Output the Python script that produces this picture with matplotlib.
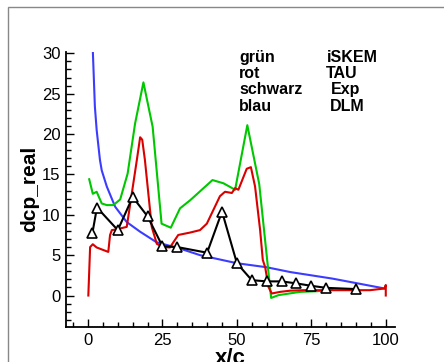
import numpy as np
import matplotlib.pyplot as plt
from matplotlib.patches import Rectangle
from matplotlib.ticker import MultipleLocator

plt.rcParams['font.family'] = ['Liberation Sans', 'DejaVu Sans']

# DLM (blau)
x_dlm = [1.6, 2.3, 2.9, 4.0, 4.6, 6.3, 9.1, 13.0, 17.5, 23.0, 31.0, 37.6, 50.0, 60.0, 68.0, 82.0, 99.2]
y_dlm = [30.4, 23.4, 20.5, 16.8, 15.5, 13.5, 11.0, 9.1, 7.9, 6.6, 5.8, 5.0, 4.0, 3.5, 2.9, 2.1, 0.9]

# iSKEM (gruen)
x_isk = [0.4, 1.6, 2.9, 4.6, 6.3, 8.5, 10.8, 13.3, 15.8, 18.6, 21.7, 24.7, 27.8, 30.9, 34.3,
         41.8, 45.5, 49.4, 53.5, 57.5, 61.5, 64.0, 71.2, 76.8, 82.0]
y_isk = [14.4, 12.6, 12.85, 11.4, 11.2, 11.2, 11.9, 15.1, 21.3, 26.4, 20.9, 8.9, 8.4, 10.8, 11.8,
         14.3, 13.9, 13.1, 21.1, 13.8, -0.3, 0.05, 0.45, 0.53, 0.7]

# TAU (rot)
x_tau = [0.1, 0.7, 1.6, 2.9, 6.8, 7.4, 8.0, 9.6, 13.0, 13.5, 16.4, 17.5, 18.2, 19.1, 21.4, 23.1,
         25.3, 27.5, 30.3, 34.3, 37.6, 39.9, 42.1, 44.3, 46.0, 48.3, 49.4, 50.5, 53.3, 54.7,
         56.1, 57.8, 58.7, 59.5, 60.6, 61.7, 64.5, 67.9, 72.3, 81.2, 94.7, 99.6, 100.0, 100.0]
y_tau = [0.0, 6.0, 6.35, 5.95, 5.4, 7.5, 8.1, 8.2, 8.5, 9.7, 16.8, 19.6, 19.3, 16.8, 8.5, 6.4,
         6.0, 5.95, 7.5, 7.8, 8.1, 8.9, 10.6, 12.3, 12.85, 12.7, 13.3, 13.1, 15.7, 15.9,
         13.5, 8.1, 4.4, 3.5, 1.07, 0.25, 0.45, 0.6, 0.66, 0.66, 0.66, 0.87, 1.3, 0.0]

# Exp (schwarz)
x_exp = [1.5, 3, 10, 15, 20, 25, 30, 40, 45, 50, 55, 60, 65, 70, 75, 80, 90]
y_exp = [7.8, 10.9, 8.1, 12.2, 9.8, 6.1, 6.0, 5.3, 10.4, 4.0, 1.9, 1.75, 1.75, 1.5, 1.2, 0.95, 0.8]

labels_left = ['grün', 'rot', 'schwarz', 'blau']
labels_right = ['iSKEM', 'TAU', 'Exp', 'DLM']

fig = plt.figure(figsize=(4.44, 3.62), dpi=100)
fig.patches.append(Rectangle((8 / 444, -0.1), 1.2, 1 - 7 / 362 + 0.1, transform=fig.transFigure,
                             fill=False, edgecolor='#888888', linewidth=1.0))

ax = fig.add_axes([66 / 444, 1 - 327 / 362, 329 / 444, 275.3 / 362])
ax.plot(x_dlm, y_dlm, color='#3c3cff', lw=1.5)
ax.plot(x_isk, y_isk, color='#00c800', lw=1.5)
ax.plot(x_tau, y_tau, color='#d90000', lw=1.5)
ax.plot(x_exp, y_exp, color='black', lw=1.5, marker='^', ms=6.5,
        mfc='white', mec='black', mew=1.2)

ax.set_xlim(-7.4, 103.1)
ax.set_ylim(-3.9, 30.2)
ax.spines['top'].set_visible(False)
ax.spines['right'].set_visible(False)
ax.spines['left'].set_linewidth(1.3)
ax.spines['bottom'].set_linewidth(1.3)
ax.xaxis.set_major_locator(MultipleLocator(25))
ax.xaxis.set_minor_locator(MultipleLocator(5))
ax.yaxis.set_major_locator(MultipleLocator(5))
ax.yaxis.set_minor_locator(MultipleLocator(1))
ax.tick_params(which='both', direction='in', labelsize=12, width=1.0)
ax.tick_params(which='major', length=5.5, pad=4)
ax.tick_params(which='minor', length=3.5)

ax.set_xlabel('x/c', fontsize=16, fontweight='bold', labelpad=0)
ax.set_ylabel('dcp_real', fontsize=15, fontweight='bold', labelpad=2)

y_text = [28.87, 26.9, 24.9, 22.9]
x_right = [80.2, 80.0, 81.6, 81.3]
for lab, yy in zip(labels_left, y_text):
    ax.text(50.7, yy, lab, fontsize=11.5, fontweight='bold', va='baseline')
for lab, xx, yy in zip(labels_right, x_right, y_text):
    ax.text(xx, yy, lab, fontsize=11.5, fontweight='bold', va='baseline')

fig.savefig('out.png', dpi=100)
